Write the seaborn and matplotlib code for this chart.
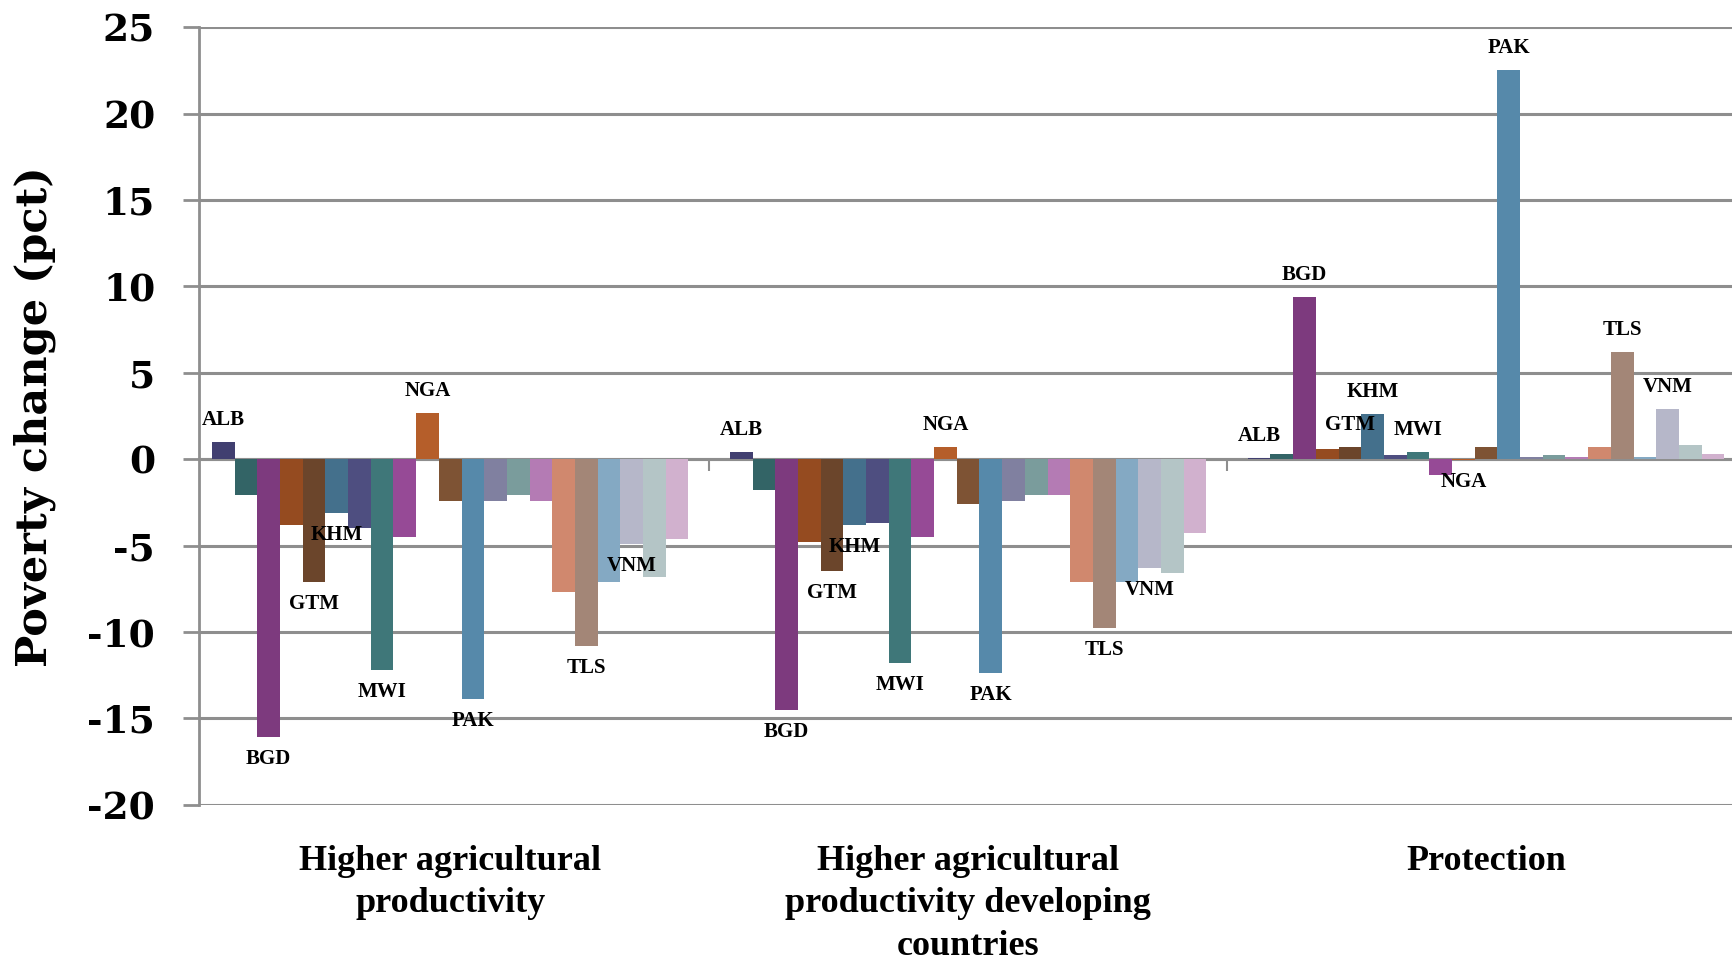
import matplotlib
matplotlib.use("Agg")
import matplotlib.pyplot as plt
import pandas as pd
import seaborn as sns

# Scenario categories and the countries shown in each group
scenarios = [
    "Higher agricultural\nproductivity",
    "Higher agricultural\nproductivity developing\ncountries",
    "Protection",
]
countries = ["ALB", "ARM", "BGD", "CIV", "GTM", "KHM", "LKA", "MWI", "NER", "NGA", "NPL",
             "PAK", "PER", "PHL", "RWA", "TJK", "TLS", "UGA", "VNM", "YEM", "ZMB"]
labelled = ["ALB", "BGD", "GTM", "KHM", "MWI", "NGA", "PAK", "TLS", "VNM"]

# Poverty change (pct) by scenario, one value per country
ag_productivity = [1.0, -2.1, -16.1, -3.8, -7.1, -3.1, -4.0, -12.2, -4.5, 2.7, -2.4,
                   -13.9, -2.4, -2.1, -2.4, -7.7, -10.8, -7.1, -4.9, -6.8, -4.6]
ag_productivity_dev = [0.4, -1.8, -14.5, -4.8, -6.5, -3.8, -3.7, -11.8, -4.5, 0.7, -2.6,
                       -12.4, -2.4, -2.1, -2.1, -7.1, -9.8, -7.1, -6.3, -6.6, -4.3]
protection = [0.05, 0.3, 9.4, 0.6, 0.7, 2.6, 0.25, 0.4, -0.9, -0.05, 0.7,
              22.5, 0.1, 0.25, 0.1, 0.7, 6.2, 0.1, 2.9, 0.85, 0.3]

y_ticks = [-20, -15, -10, -5, 0, 5, 10, 15, 20, 25]

colors = ["#413F70", "#336466", "#7D3A7E", "#954B20", "#6B452B", "#44708C", "#4E4E80",
          "#3F7779", "#964A96", "#B55E2A", "#7E5334", "#5689AA", "#8080A0", "#7A9C9C",
          "#B47BB4", "#D0886E", "#A38677", "#84A9C3", "#B6B7C9", "#B4C5C6", "#D1B1CE"]

rows = []
for scen, vals in zip(scenarios, [ag_productivity, ag_productivity_dev, protection]):
    for c, v in zip(countries, vals):
        rows.append({"scenario": scen, "country": c, "value": v})
df = pd.DataFrame(rows)

sns.set_theme(style="white")
W, H = 1733, 960
fig = plt.figure(figsize=(W / 100, H / 100), dpi=100)
ax_left, ax_right = 199, 1745
ax_top, ax_bottom = 27.3, 804.7
ax = fig.add_axes([ax_left / W, 1 - ax_bottom / H,
                   (ax_right - ax_left) / W, (ax_bottom - ax_top) / H])

grid_color = "#8E8E8E"

sns.barplot(data=df, x="scenario", y="value", hue="country", order=scenarios,
            hue_order=countries, palette=colors, width=0.92, gap=0, dodge=True,
            saturation=1, linewidth=0, errorbar=None, legend=False, ax=ax, zorder=2)

ax.set_xlim(-0.485, 2.5)
ax.set_ylim(-20, 25)
ax.set_yticks(y_ticks)
ax.set_yticklabels([str(t) for t in y_ticks])
ax.yaxis.grid(True, color=grid_color, linewidth=2.2)
ax.set_axisbelow(True)

for s in ["top", "right", "bottom"]:
    ax.spines[s].set_visible(False)
ax.spines["left"].set_color(grid_color)
ax.spines["left"].set_linewidth(2.0)

ax.tick_params(axis="y", direction="out", length=11.5, width=2.0, color=grid_color,
               pad=20, left=True)
ax.tick_params(axis="x", length=0, pad=29)
for lbl in ax.get_yticklabels():
    lbl.set_fontfamily("DejaVu Serif")
    lbl.set_fontweight("bold")
    lbl.set_fontsize(27)
    lbl.set_color("black")
for lbl in ax.get_xticklabels():
    lbl.set_fontfamily("Liberation Serif")
    lbl.set_fontweight("bold")
    lbl.set_fontsize(26)
    lbl.set_linespacing(1.38)
    lbl.set_color("black")
ax.set_xlabel("")
ax.set_ylabel("")

# Category-boundary ticks on the zero line
zero_ax = ax.secondary_xaxis(20 / 45)
zero_ax.set_xticks([0.5, 1.5])
zero_ax.set_xticklabels(["", ""])
zero_ax.tick_params(direction="out", length=8.5, width=1.5, color=grid_color)
zero_ax.spines["bottom"].set_color(grid_color)
zero_ax.spines["bottom"].set_linewidth(2.2)

# Country labels at the end of each labelled bar
for country, container in zip(countries, ax.containers):
    if country not in labelled:
        continue
    for bar in container:
        h = bar.get_height()
        x = bar.get_x() + bar.get_width() / 2
        off = 22 if h >= 0 else -22
        ax.annotate(country, (x, h), xytext=(0, off), textcoords="offset pixels",
                    ha="center", va="center", fontsize=15, fontweight="bold",
                    family="Liberation Serif", color="black", zorder=5)

fig.text(35 / W, 1 - 417 / H, "Poverty change (pct)", rotation=90, ha="center",
         va="center", fontsize=31, fontweight="bold", family="DejaVu Serif", color="black")

fig.savefig("out.png", dpi=100, facecolor="white")
